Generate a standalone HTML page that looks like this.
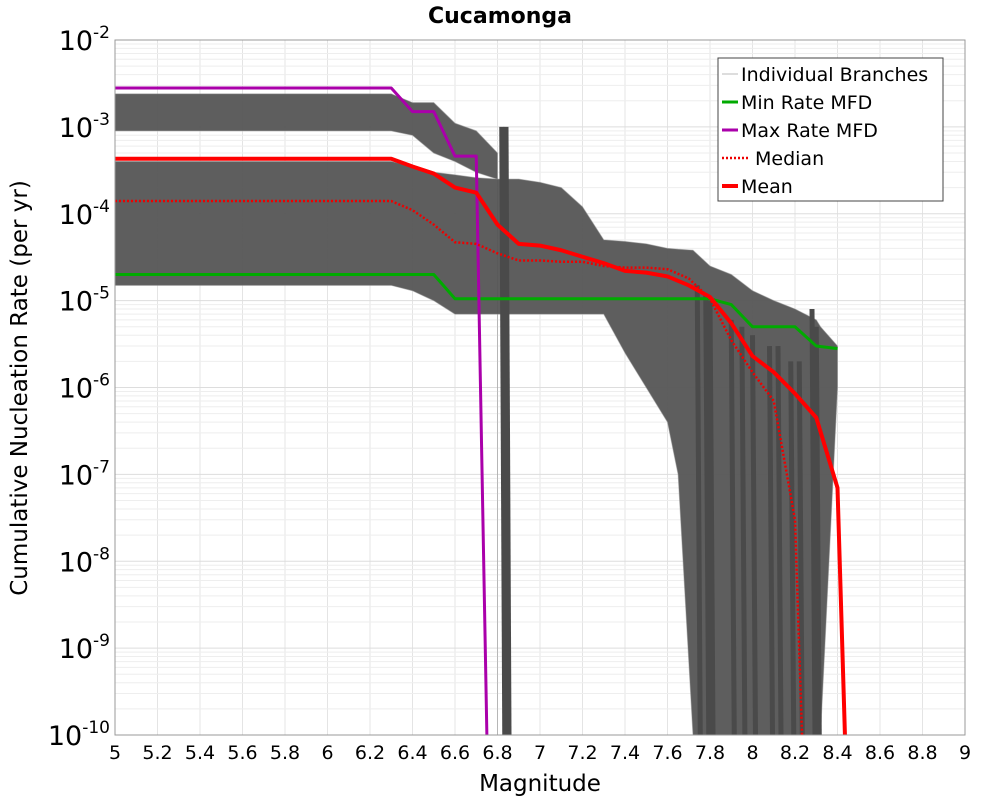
<!DOCTYPE html>
<html><head><meta charset="utf-8"><style>
body{margin:0;background:#fff}
svg text{font-family:"DejaVu Sans","Liberation Sans",sans-serif}
</style></head><body>
<svg id="chart" width="1000" height="800" xmlns="http://www.w3.org/2000/svg">
<text x="500" y="23" text-anchor="middle" font-size="22" font-weight="bold">Cucamonga</text>
<g id="grid"></g>
<g id="bands"></g>
<g id="series"></g>
<rect x="115" y="40" width="850" height="695" fill="none" stroke="#999"/>
<g id="axes"></g>
<text x="540" y="791" text-anchor="middle" font-size="23">Magnitude</text>
<text transform="translate(27,388) rotate(-90)" text-anchor="middle" font-size="23">Cumulative Nucleation Rate (per yr)</text>
<g>
<rect x="718" y="58" width="225" height="143" fill="#fff" stroke="#444"/>
<g><line x1="722" x2="738" y1="74" y2="74" stroke="#bbb"/><text x="741" y="81" font-size="19">Individual Branches</text></g>
<g><line x1="722" x2="738" y1="102" y2="102" stroke="#0a0" stroke-width="3"/><text x="741" y="109" font-size="19">Min Rate MFD</text></g>
<g><line x1="722" x2="738" y1="130" y2="130" stroke="#a0a" stroke-width="3"/><text x="741" y="137" font-size="19">Max Rate MFD</text></g>
<g><line x1="722" x2="750" y1="158" y2="158" stroke="#e00" stroke-width="2.5" stroke-dasharray="2,2"/><text x="755" y="165" font-size="19">Median</text></g>
<g><line x1="722" x2="738" y1="186" y2="186" stroke="#f00" stroke-width="4"/><text x="741" y="193" font-size="19">Mean</text></g>
</g>
</svg>
<script>
const xTicks=[5,5.2,5.4,5.6,5.8,6,6.2,6.4,6.6,6.8,7,7.2,7.4,7.6,7.8,8,8.2,8.4,8.6,8.8,9];
const yExps=[-2,-3,-4,-5,-6,-7,-8,-9,-10];
const meanM=[5,6.3,6.4,6.5,6.6,6.7,6.8,6.9,7.0,7.1,7.2,7.3,7.4,7.5,7.6,7.7,7.8,7.9,8.0,8.1,8.2,8.3,8.4,8.435];
const meanV=[4.3e-4,4.3e-4,3.5e-4,2.9e-4,2e-4,1.75e-4,7.5e-5,4.5e-5,4.3e-5,3.8e-5,3.2e-5,2.7e-5,2.2e-5,2.1e-5,1.9e-5,1.5e-5,1.1e-5,5.5e-6,2.3e-6,1.5e-6,8.5e-7,4.5e-7,7e-8,1e-10];
const medM=[5,6.3,6.4,6.5,6.6,6.7,6.8,6.9,7.0,7.1,7.2,7.3,7.4,7.5,7.6,7.7,7.8,7.9,8.0,8.1,8.2,8.233];
const medV=[1.4e-4,1.4e-4,1.1e-4,7.5e-5,4.7e-5,4.5e-5,3.5e-5,2.9e-5,2.9e-5,2.8e-5,2.8e-5,2.5e-5,2.4e-5,2.4e-5,2.3e-5,1.8e-5,1.05e-5,3.5e-6,1.5e-6,7e-7,3e-8,1e-10];
const minM=[5,6.5,6.6,7.8,7.9,8.0,8.2,8.3,8.4];
const minV=[2e-5,2e-5,1.05e-5,1.05e-5,9e-6,5e-6,5e-6,3e-6,2.8e-6];
const maxM=[5,6.3,6.4,6.5,6.6,6.7,6.75];
const maxV=[2.8e-3,2.8e-3,1.5e-3,1.5e-3,4.6e-4,4.6e-4,1e-10];
const hiM=[5,6.3,6.4,6.5,6.6,6.7,6.8,6.8];
const hiUp=[2.4e-3,2.4e-3,1.9e-3,1.9e-3,1.1e-3,9e-4,5e-4,1e-10];
const hiLo=[9e-4,9e-4,8e-4,5e-4,4e-4,3e-4,2.5e-4,1e-10];
const mainM=[5,6.3,6.4,6.5,6.6,6.7,6.8,6.9,7.0,7.1,7.2,7.3,7.4,7.5,7.6,7.65,7.72,7.8,7.9,8.0,8.1,8.2,8.3,8.32,8.4];
const mainUp=[4e-4,4e-4,3.5e-4,3e-4,2.8e-4,2.6e-4,2.5e-4,2.5e-4,2.3e-4,2e-4,1.2e-4,5e-5,4.8e-5,4.5e-5,4e-5,3.9e-5,3.8e-5,2.5e-5,2e-5,1.3e-5,1e-5,8e-6,6e-6,5e-6,3e-6];
const mainLo=[1.5e-5,1.5e-5,1.3e-5,1e-5,7e-6,7e-6,7e-6,7e-6,7e-6,7e-6,7e-6,7e-6,2.5e-6,1e-6,4e-7,1e-7,1e-10,1e-10,1e-10,1e-10,1e-10,1e-10,1e-10,1e-10,1e-6];
const dropM=[6.82,6.84,7.74,7.78,7.8,7.9,7.95,8.0,8.08,8.12,8.18,8.22,8.28,8.3];
const dropTop=[1e-3,1e-3,1.5e-5,1.2e-5,1e-5,6e-6,5e-6,4e-6,3e-6,3e-6,2e-6,2e-6,8e-6,5e-6];
const x0=115,x1=965,y0=40,y1=735;
const X=m=>x0+(m-5)/4*(x1-x0);
const Y=v=>y0+(-2-Math.log10(v))/8*(y1-y0);
const NS='http://www.w3.org/2000/svg';
function el(p,t,a){const e=document.createElementNS(NS,t);for(const k in a)e.setAttribute(k,a[k]);p.appendChild(e);return e;}
const grid=document.getElementById('grid'),axes=document.getElementById('axes'),bands=document.getElementById('bands'),series=document.getElementById('series');
xTicks.forEach(t=>{const l=el(grid,'line',{x1:X(t),x2:X(t),y1:y0,y2:y1,stroke:'#e4e4e4'});

const tx=el(axes,'text',{x:X(t),y:759,'text-anchor':'middle','font-size':19});tx.textContent=String(t);
});
yExps.forEach(e=>{for(let k=1;k<10;k++){const v=k*Math.pow(10,e);if(Math.log10(v)<-10||Math.log10(v)>-2)continue;
const l=el(grid,'line',{x1:x0,x2:x1,y1:Y(v),y2:Y(v),stroke:k==1?'#ddd':'#eee'});
}
const tx=el(axes,'text',{x:110,y:Y(Math.pow(10,e))+10,'text-anchor':'end','font-size':27});
tx.innerHTML='10<tspan dy="-12" font-size="17">'+e+'</tspan>';
});
function band(M,U,L,name){let d='M'+M.map((m,i)=>X(m)+','+Y(U[i])).join('L');
for(let i=M.length-1;i>=0;i--)d+='L'+X(M[i])+','+Y(L[i]);d+='Z';
const p=el(bands,'path',{d:d,fill:'#555','fill-opacity':0.95,stroke:'#888','stroke-opacity':0.5});
}
band(hiM,hiUp,hiLo,'high-branch-band');band(mainM,mainUp,mainLo,'main-branch-band');
dropM.forEach((m,i)=>{const l=el(bands,'line',{x1:X(m),x2:X(m)+3,y1:Y(dropTop[i]),y2:y1,stroke:'#4a4a4a','stroke-width':5});
});
function line(M,V,col,w,dash,name){const p=el(series,'polyline',{points:M.map((m,i)=>X(m)+','+Y(V[i])).join(' '),fill:'none',stroke:col,'stroke-width':w,'stroke-linejoin':'round'});
if(dash)p.setAttribute('stroke-dasharray',dash);}
line(minM,minV,'#0a0',3,null,'min-rate-line');
line(maxM,maxV,'#a0a',3,null,'max-rate-line');
line(medM,medV,'#e00',2.5,'2,2','median-line');
line(meanM,meanV,'#f00',4,null,'mean-line');
</script>
</body></html>
